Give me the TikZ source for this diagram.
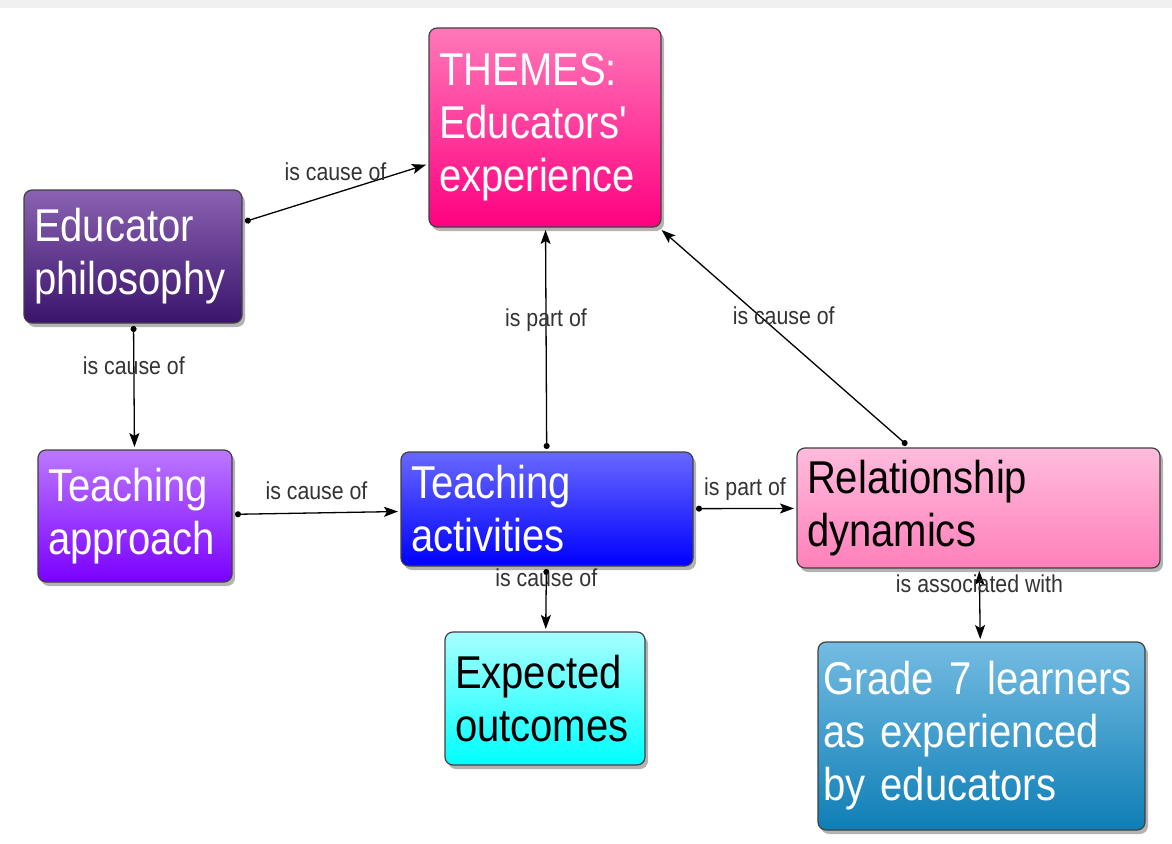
\documentclass[tikz,border=0pt]{standalone}
\usepackage{fontspec}
\setmainfont{Liberation Sans}[FakeStretch=0.87]
\usepackage{tikz}
\usetikzlibrary{shadows,arrows.meta,positioning}

\definecolor{themestop}{HTML}{FF78B8}
\definecolor{themesbot}{HTML}{FF0080}
\definecolor{philotop}{HTML}{8A62B2}
\definecolor{philobot}{HTML}{3A146C}
\definecolor{approachtop}{HTML}{BC78FF}
\definecolor{approachbot}{HTML}{7A00FF}
\definecolor{activtop}{HTML}{6868FF}
\definecolor{activbot}{HTML}{0000FF}
\definecolor{reltop}{HTML}{FFBCDC}
\definecolor{relbot}{HTML}{FF80BA}
\definecolor{outtop}{HTML}{A8FFFF}
\definecolor{outbot}{HTML}{00FFFF}
\definecolor{gradetop}{HTML}{74BCE2}
\definecolor{gradebot}{HTML}{0E7EB6}

\newcommand{\boxtext}{\fontsize{46}{53}\selectfont}
\newcommand{\linktext}{\fontsize{24.5}{27}\selectfont}

\begin{document}
\begin{tikzpicture}[x=1pt,y=-1pt]
        \useasboundingbox (0,0) rectangle (1172,843);
        \fill[black!6] (0,0) rectangle (1172,8);
        \begin{scope}[every node/.style={draw=black!75,line width=1.2pt,rounded corners=8pt,
            drop shadow={shadow xshift=3pt,shadow yshift=-4pt,opacity=.6},
            align=left,inner xsep=10pt,inner ysep=0pt,outer sep=3pt,font=\boxtext}]
          \node[top color=themestop,bottom color=themesbot,text=white,
                text width=212pt,minimum height=199pt] (themes) at (545,127.5)
                {THEMES:\\Educators\textquotesingle\\experience};
          \node[top color=philotop,bottom color=philobot,text=white,
                text width=198pt,minimum height=133pt] (philo) at (133,256.5)
                {Educator\\philosophy};
          \node[top color=approachtop,bottom color=approachbot,text=white,
                text width=174pt,minimum height=132pt] (approach) at (135,516)
                {Teaching\\approach};
          \node[top color=activtop,bottom color=activbot,text=white,
                text width=272pt,minimum height=114pt] (activities) at (547,509)
                {Teaching\\activities};
          \node[top color=reltop,bottom color=relbot,text=black,
                text width=343pt,minimum height=120pt] (reldyn) at (978.5,508)
                {Relationship\\dynamics};
          \node[top color=outtop,bottom color=outbot,text=black,
                text width=180pt,minimum height=133pt] (outcomes) at (545,698.5)
                {Expected\\outcomes};
          \node[top color=gradetop,bottom color=gradebot,text=white,inner xsep=5pt,
                text width=317pt,minimum height=188pt] (grade7) at (981.5,736)
                {Grade 7 learners\\as experienced\\by educators};
        \end{scope}
        \begin{scope}[every edge/.style={draw=black,line width=1.3pt,
            {Circle[length=6pt]}-{Stealth[length=14pt,width=10pt,inset=3pt]}},
            every node/.style={font=\linktext,text=black!80}]
          \path (philo) edge node[yshift=21pt] {is cause of} (themes);
          \path (philo) edge node[pos=.33] {is cause of} (approach);
          \path (approach) edge node[yshift=22pt] {is cause of} (activities);
          \path (activities) edge node[pos=.59] {is part of} (themes);
          \path (reldyn) edge node[pos=.6,xshift=24pt] {is cause of} (themes);
          \path (activities) edge node[yshift=19pt] {is part of} (reldyn);
          \path (activities) edge node[pos=.15] {is cause of} (outcomes);
          \path (reldyn) edge[{Stealth[length=14pt,width=10pt,inset=3pt]}-{Stealth[length=14pt,width=10pt,inset=3pt]}]
                node[pos=.18] {is associated with} (grade7);
        \end{scope}
      \end{tikzpicture}
\end{document}
